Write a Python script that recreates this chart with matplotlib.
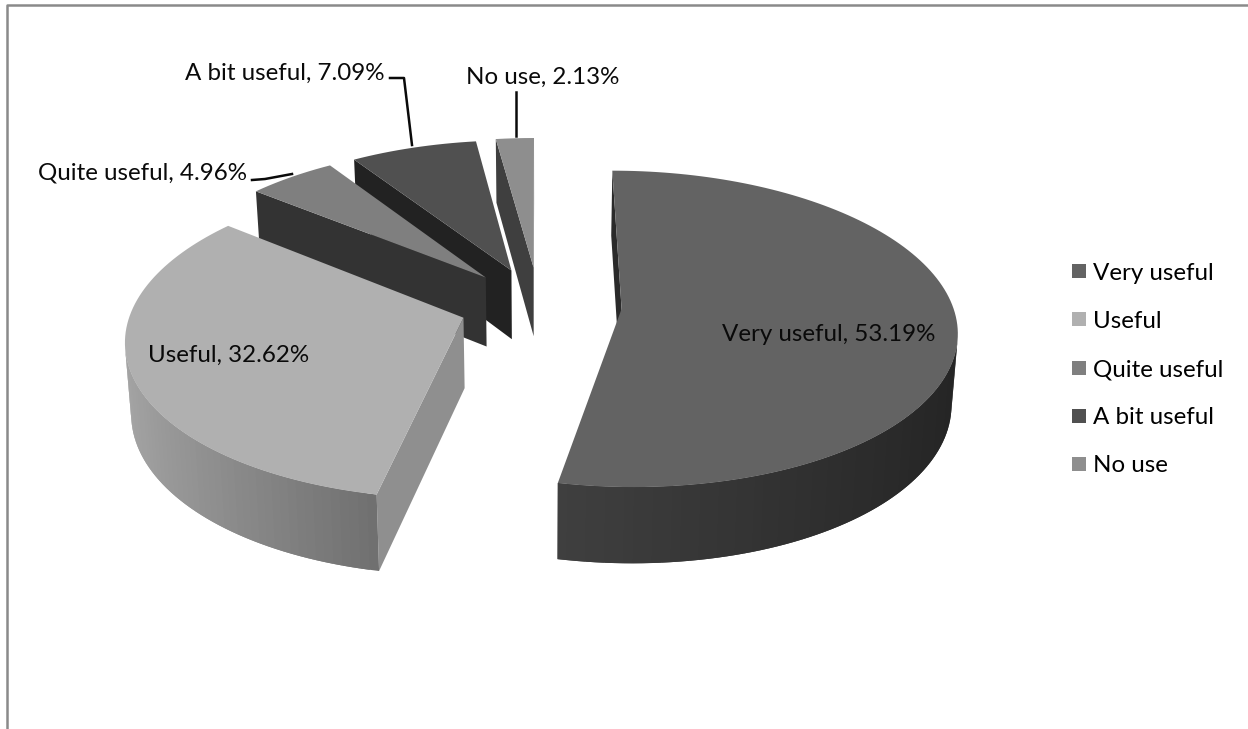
import numpy as np
import matplotlib
matplotlib.use("Agg")
import matplotlib.pyplot as plt
from matplotlib.lines import Line2D
from matplotlib.patches import Polygon

categories = ["Very useful", "Useful", "Quite useful", "A bit useful", "No use"]
shares = [53.19, 32.62, 4.96, 7.09, 2.13]
top_colors = ["#636363", "#b0b0b0", "#7f7f7f", "#505050", "#8e8e8e"]
legend_colors = ["#636363", "#b0b0b0", "#7f7f7f", "#505050", "#8e8e8e"]
cut_colors = ["#2a2a2a", "#8f8f8f", "#333333", "#222222", "#3f3f3f"]
rim_left = ["#525252", "#a6a6a6", "#333333", "#222222", "#3f3f3f"]
rim_right = ["#242424", "#202020", "#333333", "#222222", "#3f3f3f"]
explode = [0.25, 0.24, 0.245, 0.245, 0.25]

CX, CY = 539, 305
RX, RY = 331, 154.7
K = 0.126
DEPTH = 70
DEPTH_K = 0.08
SHRINK = 0.985


def project(x, y, lower=False):
    w = 1 + K * y
    sx = CX + RX * x / w
    sy = CY - RY * y / w
    if lower:
        sx = CX + (sx - CX) * SHRINK
        sy = sy + DEPTH / (1 + DEPTH_K * y)
    return sx, sy


def lerp_color(a, b, t):
    ca = np.array(matplotlib.colors.to_rgb(a))
    cb = np.array(matplotlib.colors.to_rgb(b))
    return tuple(ca + (cb - ca) * t)


fig = plt.figure(figsize=(12.48, 7.29), dpi=100)
ax = fig.add_axes([0, 0, 1, 1])
ax.set_xlim(0, 1248)
ax.set_ylim(729, 0)
ax.axis("off")

edges = np.cumsum([0] + shares) / 100 * 2 * np.pi


def signed_area(quad):
    qx, qy = quad[:, 0], quad[:, 1]
    return np.sum(qx * np.roll(qy, -1) - np.roll(qx, -1) * qy)


def draw_slice(i):
    t1, t2 = edges[i], edges[i + 1]
    mid = (t1 + t2) / 2
    ox, oy = explode[i] * np.sin(mid), explode[i] * np.cos(mid)
    n = max(4, int((t2 - t1) * 40))
    th = np.linspace(t1, t2, n)
    xs = np.r_[ox, ox + np.sin(th), ox]
    ys = np.r_[oy, oy + np.cos(th), oy]
    top = np.array(project(xs, ys)).T
    bot = np.array(project(xs, ys, lower=True)).T
    last = len(xs) - 2
    for j in range(len(xs) - 1):
        quad = np.array([top[j], top[j + 1], bot[j + 1], bot[j]])
        if signed_area(quad) >= 0:
            continue
        if j == 0 or j == last:
            col = cut_colors[i]
        else:
            col = lerp_color(rim_left[i], rim_right[i], (np.sin(th[j - 1]) + 1) / 2)
            # overlap the next strip so that no seam shows between strips
            k = min(j + 2, last)
            quad = np.array([top[j], top[k], bot[k], bot[j]])
        ax.add_patch(Polygon(quad, closed=True, fc=col, ec="none", lw=0, zorder=2))
    ax.add_patch(Polygon(top, closed=True, fc=top_colors[i], ec="none", lw=0, zorder=2))


for i in [4, 3, 2, 1, 0]:
    draw_slice(i)

font = "Lato"
fs = 17.4
labels = [f"{c}, {v:.2f}%" for c, v in zip(categories, shares)]
label_pos = [(829, 334), (229, 355), (142, 173), (285, 73), (543, 77)]
for t, (x, y) in zip(labels, label_pos):
    ax.text(x, y, t, ha="center", va="center", fontsize=fs, family=font, color="#0a0a0a", zorder=5)

leaders = [
    ([252, 265, 292], [180, 179, 174]),
    ([390, 404, 412], [78, 78, 145]),
    ([516, 516], [92, 136]),
]
for lx, ly in leaders:
    ax.plot(lx, ly, color="#0a0a0a", lw=1.8, zorder=4, solid_joinstyle="round")

handles = [Line2D([], [], ls="", marker="s", ms=10.3, color=c, mew=0) for c in legend_colors]
ax.legend(handles, categories, loc="center left", bbox_to_anchor=(1072 / 1248, 1 - 369.5 / 729),
          frameon=False, prop={"family": font, "size": fs}, labelspacing=1.12,
          handlelength=0.6, handletextpad=0.27, borderpad=0, borderaxespad=0)

# chart-area frame
ax.plot([7.3, 7.3, 1248], [729, 4.5, 4.5], color="#8a8a8a", lw=1.8, zorder=6, clip_on=False)

fig.savefig("out.png", dpi=100, facecolor="white")
